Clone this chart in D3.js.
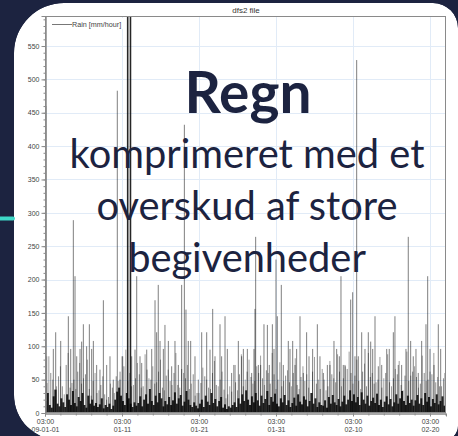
<!DOCTYPE html>
<html><head><meta charset="utf-8">
<script src="https://cdn.jsdelivr.net/npm/d3@7"></script>
<style>html,body{margin:0;padding:0;background:#1c2340;overflow:hidden}</style>
</head><body>
<svg id="c" width="458" height="436"></svg>
<script>
// ---------------- data ----------------
const chartTitle = "dfs2 file";
const seriesName = "Rain [mm/hour]";
const startTime = "2009-01-01T03:00:00Z";
const endDay = 52.08;
const tickDays = [0, 10, 20, 30, 40, 50];
const tickTimeLabels = ["03:00", "03:00", "03:00", "03:00", "03:00", "03:00"];
const tickDateLabels = ["09-01-01", "01-11", "01-21", "01-31", "02-10", "02-20"];
const yTicks = [0, 50, 100, 150, 200, 250, 300, 350, 400, 450, 500, 550];
const yMax = 595;

// larger rain events: time (days after start) and intensity (mm/hour)
const spikeDays = [0.13,0.22,1.08,1.39,2.04,3.03,3.34,3.68,3.90,4.12,4.55,4.76,4.98,5.41,5.76,6.06,6.28,6.71,7.14,7.58,8.01,8.44,8.87,9.39,9.74,10.09,10.74,11.10,11.26,11.69,11.91,12.34,12.56,
13.21,13.86,14.29,14.50,14.71,14.94,15.37,15.58,16.02,16.45,16.88,17.32,17.75,18.10,18.31,18.61,18.92,19.48,19.91,20.35,21.00,21.43,21.78,22.08,22.73,22.94,23.38,23.68,24.24,24.68,25.11,25.54,
25.76,26.28,26.84,27.14,27.27,27.36,27.71,28.01,28.44,28.88,29.13,29.53,29.74,30.00,30.17,30.69,30.95,31.60,31.82,32.17,32.47,32.68,33.12,33.55,33.98,34.29,34.76,35.37,35.71,36.15,36.67,37.01,37.53,37.88,38.23,38.44,38.74,
38.96,39.70,39.96,40.26,40.48,40.69,41.13,41.56,41.99,42.30,42.56,42.86,43.29,43.73,44.38,44.71,45.24,45.45,45.88,46.32,46.88,47.18,47.49,47.83,48.18,48.48,48.92,49.48,49.70,50.00,50.52,51.08,51.39,51.95];
const spikeVals = [460,85,96,121,108,145,96,289,205,85,96,107,133,100,133,96,108,72,65,169,72,85,50,483,50,85,700,650,85,95,205,85,75,
95,96,169,121,192,108,96,132,108,70,108,72,192,432,155,108,108,85,50,121,121,95,156,85,133,85,145,96,60,72,108,85,
96,96,60,96,156,264,72,72,133,132,72,133,96,230,145,192,72,108,96,108,72,96,145,60,121,85,96,133,85,60,72,72,108,96,85,205,72,
72,170,181,85,529,85,121,96,121,107,96,145,70,72,96,96,121,145,72,72,96,264,108,85,96,60,108,133,205,96,72,133,96,60];

// background rain, 6-hourly maxima (mm/hour)
const baseVals = [
18,30,12,8,25,35,14,10,22,16,9,28,20,12,33,15,
10,24,18,30,12,8,26,14,20,11,15,9,13,22,7,12,
9,14,6,11,20,32,38,26,18,12,30,22,14,9,16,11,
15,25,10,20,28,14,36,18,12,26,16,30,22,10,18,13,
24,12,19,31,14,22,27,11,17,33,20,12,9,16,11,7,
14,20,9,26,17,12,30,15,21,10,18,24,8,13,6,10,
8,12,16,9,22,14,28,18,34,20,12,25,16,30,19,11,
26,15,21,33,12,24,17,29,14,10,22,16,27,12,19,9,
15,23,11,28,17,13,25,20,10,18,30,14,22,9,16,12,
11,19,8,24,14,27,16,12,21,10,17,26,13,20,34,18,
28,16,24,12,31,20,14,26,11,18,23,15,29,12,20,9,
17,25,13,21,10,16,28,14,22,33,18,12,26,15,20,11,
19,27,14,22,12,30,17,24,10,21,15,28,13,18,25,11];

// moderate rain, 12-hourly maxima (mm/hour), two interleaved records
const midVals = [
45,60,35,55,40,72,38,50,
62,44,58,36,48,30,42,28,
24,38,55,62,70,48,40,52,
58,40,65,50,44,62,38,56,
48,60,42,66,52,36,58,30,
45,55,38,60,42,50,35,28,
32,46,58,40,62,54,48,60,
52,64,44,58,50,40,56,46,
60,42,54,48,38,62,44,36,
50,40,58,46,62,52,66,60,
56,48,62,40,54,44,50,38,
60,46,52,58,42,56,48,62,
54,44,60,50,58,46,40,52];
const midVals2 = [
30,85,50,40,70,28,90,45,
36,75,52,80,26,60,34,55,
20,44,30,48,85,95,60,42,
75,38,88,52,70,46,80,34,
65,42,90,38,60,72,44,26,
30,68,50,36,78,40,62,22,
40,72,34,88,50,80,44,70,
86,42,60,90,36,76,48,64,
40,82,36,70,58,30,84,50,
66,34,78,52,88,40,70,92,
44,80,36,74,90,60,46,84,
52,88,40,66,78,34,92,56,
70,38,86,48,62,90,54,40];

const headline = "Regn";
const subLines = ["komprimeret med et", "overskud af store", "begivenheder"];

// ---------------- drawing ----------------
const W = 458, H = 436, bg = "#1c2340", ink = "#1c2340";
const svg = d3.select("#c");
const DAY = 86400000;
const t0 = new Date(startTime).getTime();
const toDate = d => new Date(t0 + d * DAY);

function roundRect(x, y, w, h, r) {
  const p = d3.path();
  p.moveTo(x + r.tl, y);
  p.lineTo(x + w - r.tr, y);
  p.arcTo(x + w, y, x + w, y + r.tr, r.tr);
  p.lineTo(x + w, y + h - r.br);
  p.arcTo(x + w, y + h, x + w - r.br, y + h, r.br);
  p.lineTo(x + r.bl, y + h);
  p.arcTo(x, y + h, x, y + h - r.bl, r.bl);
  p.lineTo(x, y + r.tl);
  p.arcTo(x, y, x + r.tl, y, r.tl);
  p.closePath();
  return p.toString();
}
const cardPath = roundRect(14, 3, 444, 437, {tl: 50, tr: 25, br: 14, bl: 45});
svg.append("path").attr("d", cardPath).attr("fill", "#fff");

const L = 45, R = 446, T = 16, B = 413;
const x = d3.scaleUtc().domain([toDate(0), toDate(endDay)]).range([L, R]);
const y = d3.scaleLinear().domain([0, yMax]).range([B, T]);

// title
svg.append("text").attr("x", 246).attr("y", 13).attr("text-anchor", "middle")
  .style("font-family", "Liberation Sans, Arial, sans-serif").style("font-size", "8px")
  .attr("fill", "#333").text(chartTitle);

// grid
const grid = svg.append("g").attr("stroke", "#e1ebf7").attr("stroke-width", 1);
yTicks.filter(v => v > 0).forEach(v => {
  grid.append("line").attr("x1", L).attr("x2", R).attr("y1", Math.round(y(v)) + 0.5).attr("y2", Math.round(y(v)) + 0.5);
});
tickDays.filter(d => d > 0).forEach(d => {
  const xx = Math.round(x(toDate(d))) + 0.5;
  grid.append("line").attr("x1", xx).attr("x2", xx).attr("y1", T).attr("y2", B);
});

// data
svg.append("clipPath").attr("id", "plotclip").append("rect").attr("x", L).attr("y", T).attr("width", R - L).attr("height", B - T);
const data = svg.append("g").attr("clip-path", "url(#plotclip)");
function bars(cls, vals, dayOf, opacity, width) {
  data.selectAll("line." + cls).data(vals).join("line").attr("class", cls)
    .attr("x1", (v, i) => x(toDate(dayOf(i)))).attr("x2", (v, i) => x(toDate(dayOf(i))))
    .attr("y1", y(0)).attr("y2", v => y(v))
    .attr("stroke", "#000").attr("stroke-opacity", opacity).attr("stroke-width", width);
}
bars("mid2", midVals2, i => i * 0.5, 0.38, 1);
bars("mid", midVals, i => i * 0.5 + 0.25, 0.45, 1);
data.selectAll("line.spike").data(spikeVals).join("line").attr("class", "spike")
  .attr("x1", (v, i) => x(toDate(spikeDays[i]))).attr("x2", (v, i) => x(toDate(spikeDays[i])))
  .attr("y1", y(0)).attr("y2", v => y(v))
  .attr("stroke", "#000").attr("stroke-opacity", v => v > 600 ? 0.85 : 0.5).attr("stroke-width", v => v > 600 ? 1.6 : 1);
bars("base", baseVals, i => i * 0.25 + 0.125, 0.85, 2);

// frame
svg.append("rect").attr("x", L + 0.5).attr("y", T + 0.5).attr("width", R - L - 1).attr("height", B - T - 1)
  .attr("fill", "none").attr("stroke", "#8a8a8a").attr("stroke-width", 1);

const fontAxis = "Liberation Sans, Arial, sans-serif";
// y axis
const yMinor = svg.append("g").attr("transform", `translate(${L + 0.5},0)`)
  .call(d3.axisLeft(y).tickValues(d3.range(0, 591, 10)).tickSize(2).tickFormat(""));
const yAx = svg.append("g").attr("transform", `translate(${L + 0.5},0)`)
  .call(d3.axisLeft(y).tickValues(yTicks).tickSize(4).tickPadding(2));
[yMinor, yAx].forEach(g => { g.select(".domain").attr("stroke", "#8a8a8a"); g.selectAll(".tick line").attr("stroke", "#8a8a8a"); });
yAx.selectAll("text").style("font-family", fontAxis).style("font-size", "7px").attr("fill", "#444");

// x axis
const xMinor = svg.append("g").attr("transform", `translate(0,${B + 0.5})`)
  .call(d3.axisBottom(x).tickValues(d3.range(0, 53, 2).map(toDate)).tickSize(2).tickFormat(""));
const xAx = svg.append("g").attr("transform", `translate(0,${B + 0.5})`)
  .call(d3.axisBottom(x).tickValues(tickDays.map(toDate)).tickSize(3).tickFormat(""));
[xMinor, xAx].forEach(g => { g.select(".domain").attr("stroke", "#8a8a8a"); g.selectAll(".tick line").attr("stroke", "#8a8a8a"); });
xAx.selectAll(".tick").each(function(d, i) {
  const t = d3.select(this).append("text").attr("text-anchor", "middle")
    .style("font-family", fontAxis).style("font-size", "7px").attr("fill", "#444");
  t.append("tspan").attr("x", 0).attr("y", 10.5).text(tickTimeLabels[i]);
  t.append("tspan").attr("x", 0).attr("y", 18.5).text(tickDateLabels[i]);
});

// legend
const lg = svg.append("g");
lg.append("rect").attr("x", 49).attr("y", 18).attr("width", 74).attr("height", 11).attr("fill", "#fff");
lg.append("line").attr("x1", 52).attr("x2", 72).attr("y1", 24.5).attr("y2", 24.5).attr("stroke", "#777").attr("stroke-width", 1);
lg.append("text").attr("x", 72).attr("y", 27).style("font-family", fontAxis).style("font-size", "7.2px").attr("fill", "#444").text(seriesName);

// overlay text
const fontOverlay = "Lato, 'Open Sans', sans-serif";
const head = svg.append("text").attr("x", 248).attr("y", 113).attr("text-anchor", "middle")
  .style("font-family", fontOverlay).style("font-weight", "700").style("font-size", "50px").attr("fill", ink).text(headline);
const hw = head.node().getComputedTextLength();
head.style("font-size", (50 * 127 / hw) + "px");

const subY = [168, 220, 272];
const subs = subLines.map((s, i) => svg.append("text").attr("x", 247).attr("y", subY[i]).attr("text-anchor", "middle")
  .style("font-family", fontOverlay).style("font-weight", "400").style("font-size", "40px").attr("fill", ink).text(s));
const sw = subs[0].node().getComputedTextLength();
const fs = 40 * 355 / sw;
subs.forEach(t => t.style("font-size", fs + "px"));

// slide background mask
svg.append("path").attr("d", `M0,0H${W}V${H}H0Z` + cardPath).attr("fill-rule", "evenodd").attr("fill", bg);

// accent line
svg.append("line").attr("x1", -3).attr("x2", 13).attr("y1", 218.5).attr("y2", 218.5)
  .attr("stroke", "#3ed8c8").attr("stroke-width", 4).attr("stroke-linecap", "round");
</script>
</body></html>
